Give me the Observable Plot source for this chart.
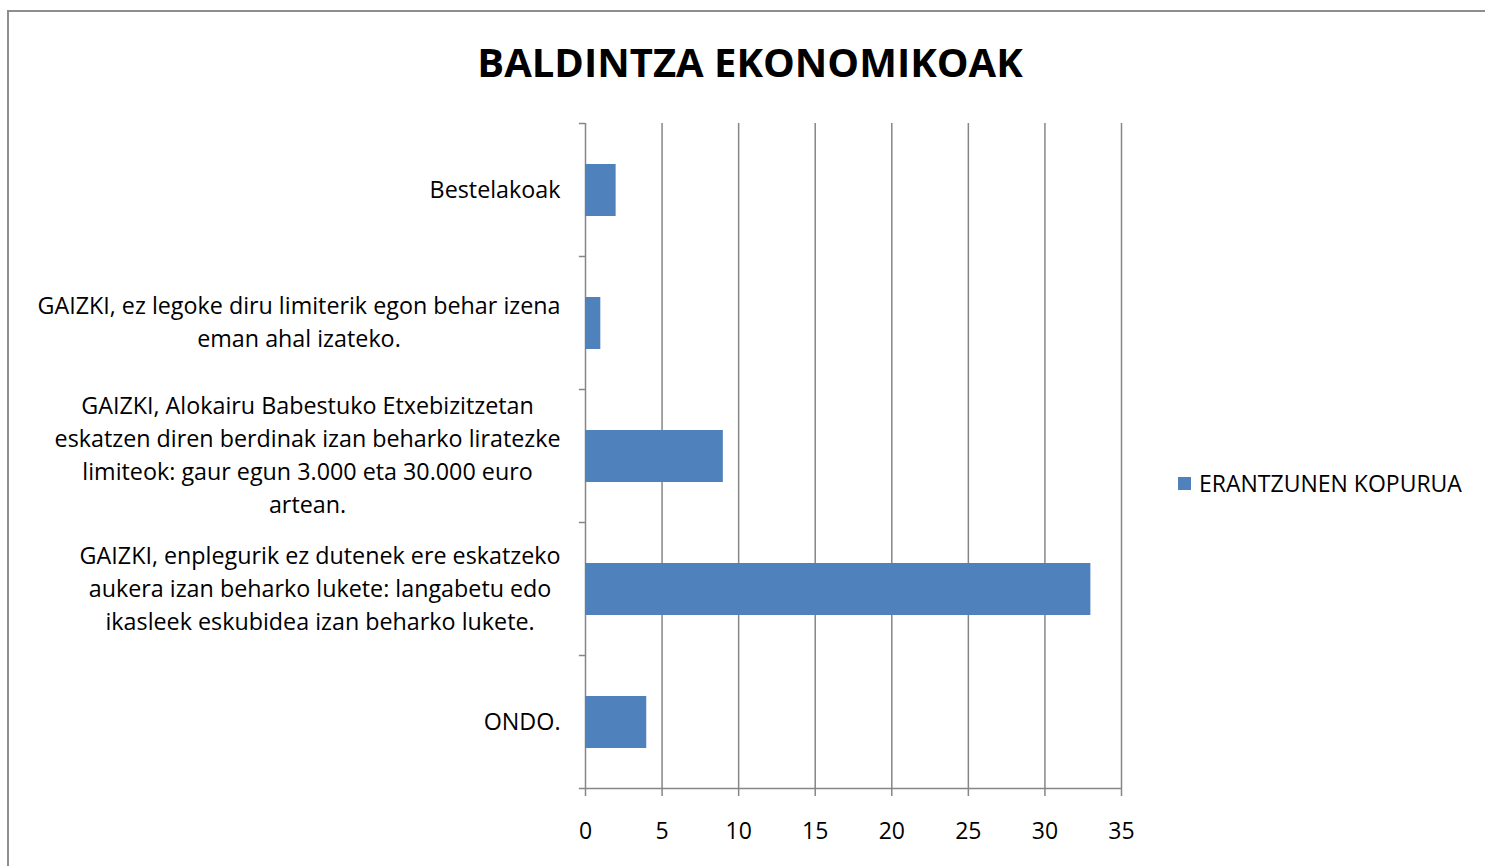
<!DOCTYPE html>
<html>
<head>
<meta charset="utf-8">
<script src="https://cdn.jsdelivr.net/npm/d3@7"></script>
<script src="https://cdn.jsdelivr.net/npm/@observablehq/plot@0.6"></script>
<style>
  html, body { margin: 0; padding: 0; background: #fff; }
  #wrap { position: relative; width: 1485px; height: 866px; overflow: hidden; font-family: "Open Sans", sans-serif; }
  #border { position: absolute; left: 7px; top: 10px; width: 1600px; height: 1000px; border: 2.5px solid #8e8e8e; box-sizing: border-box; }
  #title { position: absolute; left: 750px; top: 34px; transform: translateX(-50%); white-space: nowrap; font-weight: 700; font-size: 40px; line-height: 56px; color: #000; }
  #chart { position: absolute; left: 0; top: 100px; }
  #legend { position: absolute; left: 1178px; top: 468px; display: flex; align-items: center; white-space: nowrap; font-size: 23px; line-height: 30px; color: #000; }
  #legend .sw { width: 13px; height: 13px; background: #4f81bd; margin-right: 8px; }
</style>
</head>
<body>
<div id="wrap">
  <div id="border"></div>
  <div id="title"></div>
  <div id="chart"></div>
  <div id="legend"><span class="sw"></span><span id="legtext"></span></div>
</div>
<script>
const titleText = "BALDINTZA EKONOMIKOAK";
const seriesName = "ERANTZUNEN KOPURUA";
const categories = [
  "Bestelakoak",
  "GAIZKI, ez legoke diru limiterik egon behar izena eman ahal izateko.",
  "GAIZKI, Alokairu Babestuko Etxebizitzetan eskatzen diren berdinak izan beharko liratezke limiteok: gaur egun 3.000 eta 30.000 euro artean.",
  "GAIZKI, enplegurik ez dutenek ere eskatzeko aukera izan beharko lukete: langabetu edo ikasleek eskubidea izan beharko lukete.",
  "ONDO."
];
const labelLines = [
  ["Bestelakoak"],
  ["GAIZKI, ez legoke diru limiterik egon behar izena", "eman ahal izateko."],
  ["GAIZKI, Alokairu Babestuko Etxebizitzetan", "eskatzen diren berdinak izan beharko liratezke", "limiteok: gaur egun 3.000 eta 30.000 euro", "artean."],
  ["GAIZKI, enplegurik ez dutenek ere eskatzeko", "aukera izan beharko lukete: langabetu edo", "ikasleek eskubidea izan beharko lukete."],
  ["ONDO."]
];
const values = [2, 1, 9, 33, 4];
const xTicks = [0, 5, 10, 15, 20, 25, 30, 35];

document.getElementById("title").textContent = titleText;
document.getElementById("legtext").textContent = seriesName;

const rows = categories.map((c, i) => ({category: c, value: values[i]}));

const fontSize = 23.3;
const canvas = document.createElement("canvas");
const ctx = canvas.getContext("2d");
ctx.font = `${fontSize}px "Open Sans"`;

const gridColor = "#868686";
const W = 1170, H = 766, mL = 585, mR = 49, mT = 23, mB = 78;
const band = (H - mT - mB) / categories.length;

const labelMarks = categories.map((c, i) => {
  const maxW = d3.max(labelLines[i], s => ctx.measureText(s).width);
  return Plot.text([c], {
    y: d => d,
    text: () => labelLines[i].join("\n"),
    frameAnchor: "left",
    textAnchor: "middle",
    lineAnchor: "middle",
    lineHeight: 33 / fontSize,
    fontSize: fontSize,
    fill: "#000",
    dx: -(25 + maxW / 2),
    dy: -3
  });
});

const chart = Plot.plot({
  width: W, height: H,
  marginLeft: mL, marginRight: mR, marginTop: mT, marginBottom: mB,
  style: {fontFamily: "'Open Sans', sans-serif", fontSize: "23px", color: "#000", background: "transparent", overflow: "visible"},
  x: {domain: [0, 35], axis: null},
  y: {domain: categories, padding: 0, axis: null},
  marks: [
    Plot.ruleX(xTicks, {stroke: gridColor, strokeWidth: 1.5}),
    Plot.barX(rows, {x: "value", y: "category", fill: "#4f81bd", insetTop: 41, insetBottom: 40}),
    Plot.ruleY(categories, {y: d => d, x1: -0.4, x2: 0, dy: -band / 2, stroke: gridColor, strokeWidth: 1.5}),
    Plot.ruleY([categories[categories.length - 1]], {y: d => d, x1: -0.4, x2: 35, dy: band / 2, stroke: gridColor, strokeWidth: 1.5}),
    Plot.axisX({ticks: xTicks, tickSize: 8, tickPadding: 26, stroke: gridColor, strokeWidth: 1.5, fill: "#000", fontSize: 23, anchor: "bottom", label: null}),
    ...labelMarks
  ]
});
document.getElementById("chart").appendChild(chart);
</script>
</body>
</html>
